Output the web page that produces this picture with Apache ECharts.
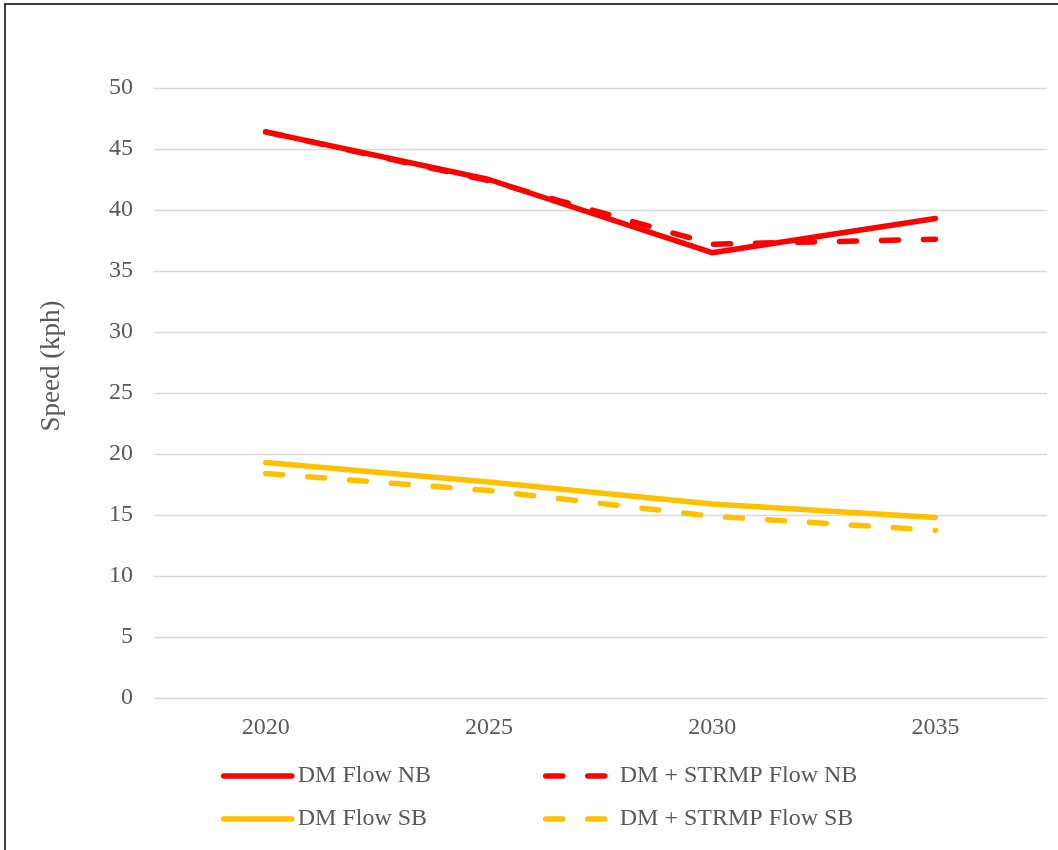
<!DOCTYPE html>
<html>
<head>
<meta charset="utf-8">
<script src="https://cdn.jsdelivr.net/npm/echarts@6/dist/echarts.min.js"></script>
<style>html,body{margin:0;padding:0;background:#fff;}#chart{width:1058px;height:850px;}</style>
</head>
<body>
<div id="chart"></div>
<script>
const categories = ['2020', '2025', '2030', '2035'];
const dmFlowNB = [46.4, 42.5, 36.5, 39.3];
const strmpFlowNB = [46.4, 42.4, 37.2, 37.6];
const dmFlowSB = [19.3, 17.7, 15.9, 14.8];
const strmpFlowSB = [18.4, 17.0, 14.9, 13.75];
const yTicks = {min: 0, max: 50, interval: 5};

const FONT = '"Liberation Serif", "Times New Roman", serif';
const RED = '#FF0000', GOLD = '#FFC000';
const dash = [17, 25];

const chart = echarts.init(document.getElementById('chart'));
function line(name, data, color, dashed) {
  return {
    name, type: 'line', data, symbol: 'none', smooth: false,
    lineStyle: {color, width: 5.5, type: dashed ? dash : 'solid', cap: 'round', join: 'round'},
    itemStyle: {color},
    emphasis: {disabled: true}
  };
}
function legend(left, names, dashed) {
  return {
    orient: 'vertical', left, top: 764, padding: 0, itemWidth: 68, itemHeight: 14, itemGap: 19,
    textStyle: {fontFamily: FONT, fontSize: 24, color: '#595959', padding: [0, 0, 0, 1]},
    itemStyle: {opacity: 0},
    lineStyle: {width: 5.5, cap: 'round', type: dashed ? [17, 25] : 'solid'},
    selectedMode: false, data: names
  };
}
chart.setOption({
  animation: false,
  backgroundColor: '#fff',
  grid: {left: 154, right: 11, top: 88, bottom: 152, containLabel: false},
  xAxis: {
    type: 'category', data: categories, boundaryGap: true,
    axisLine: {show: false}, axisTick: {show: false},
    axisLabel: {fontFamily: FONT, fontSize: 24, color: '#595959', margin: 18}
  },
  yAxis: {
    type: 'value', min: yTicks.min, max: yTicks.max, interval: yTicks.interval,
    axisLine: {show: false}, axisTick: {show: false},
    splitLine: {lineStyle: {color: '#D9D9D9', width: 1.3}},
    axisLabel: {fontFamily: FONT, fontSize: 24, color: '#595959', margin: 21}
  },
  legend: [
    legend(221, ['DM Flow NB', 'DM Flow SB'], false),
    legend(543, ['DM + STRMP Flow NB', 'DM + STRMP Flow SB'], true)
  ],
  graphic: [
    {type: 'rect', shape: {x: 5, y: 4, width: 1100, height: 900}, style: {fill: 'none', stroke: '#000', lineWidth: 1.5}, silent: true},
    {type: 'text', x: 52, y: 366, rotation: Math.PI / 2, style: {text: 'Speed (kph)', font: '27px ' + FONT, fill: '#595959', textAlign: 'center', textVerticalAlign: 'middle'}, silent: true}
  ],
  series: [
    line('DM Flow NB', dmFlowNB, RED, false),
    line('DM + STRMP Flow NB', strmpFlowNB, RED, true),
    line('DM Flow SB', dmFlowSB, GOLD, false),
    line('DM + STRMP Flow SB', strmpFlowSB, GOLD, true)
  ]
});
</script>
</body>
</html>
